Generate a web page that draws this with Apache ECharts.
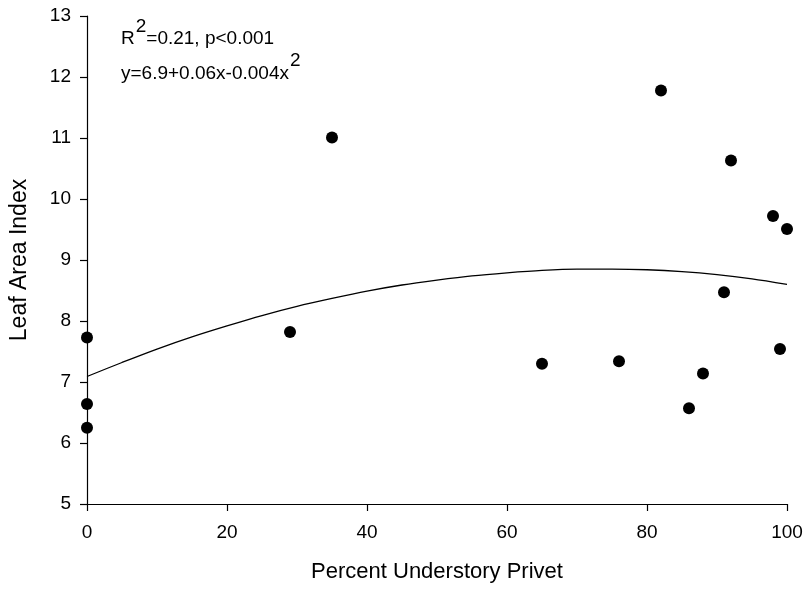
<!DOCTYPE html>
<html>
<head>
<meta charset="utf-8">
<script src="https://cdn.jsdelivr.net/npm/echarts@6/dist/echarts.min.js"></script>
<style>
  html, body { margin: 0; padding: 0; background: #fff; }
  #chart { width: 807px; height: 590px; }
</style>
</head>
<body>
<div id="chart"></div>
<script>
// observed points
var privetPct = [0, 0, 0, 29, 35, 65, 76, 82, 86, 88, 91, 92, 98, 99, 100];
var leafArea = [7.73, 6.64, 6.25, 7.82, 11.01, 7.30, 7.34, 11.78, 6.57, 7.14, 8.47, 10.63, 9.72, 7.54, 9.51];

// regression curve
var fitX = [0, 5, 10, 15, 20, 25, 30, 35, 40, 45, 50, 55, 60, 65, 70, 75, 80, 85, 90, 95, 100];
var fitY = [7.09, 7.32, 7.54, 7.74, 7.92, 8.09, 8.24, 8.37, 8.49, 8.59, 8.67, 8.74, 8.79, 8.83, 8.85, 8.85, 8.84, 8.81, 8.76, 8.69, 8.60];

var xTicks = [0, 20, 40, 60, 80, 100];
var yTicks = [5, 6, 7, 8, 9, 10, 11, 12, 13];

var FONT = '"Liberation Sans", Arial, sans-serif';

var chart = echarts.init(document.getElementById('chart'));

var points = privetPct.map(function (x, i) { return [x, leafArea[i]]; });
var curve = fitX.map(function (x, i) { return [x, fitY[i]]; });

// measure text widths for the annotation pieces
var ctx = document.createElement('canvas').getContext('2d');
function textW(s, size) {
  ctx.font = size + 'px ' + FONT;
  return ctx.measureText(s).width;
}

var annSize = 19;
var left = 121;
var rW = textW('R', annSize);
var supW = textW('2', annSize);
var eqText = 'y=6.9+0.06x-0.004x';
var eqW = textW(eqText, annSize);

function txt(str, x, y) {
  return {
    type: 'text',
    x: x,
    y: y,
    style: {
      text: str,
      fill: '#000',
      font: annSize + 'px ' + FONT,
      verticalAlign: 'middle',
      align: 'left'
    }
  };
}

var axisCommon = {
  axisLine: { show: true, onZero: false, lineStyle: { color: '#000', width: 1.2 } },
  axisTick: { show: true, inside: false, length: 7, lineStyle: { color: '#000', width: 1.2 } },
  splitLine: { show: false },
  axisLabel: { color: '#000', fontSize: 19, fontFamily: FONT },
  nameLocation: 'middle'
};

var options = {
  backgroundColor: '#fff',
  animation: false,
  grid: { left: 87, right: 20, top: 16, bottom: 86, containLabel: false, outerBoundsMode: 'none' },
  xAxis: Object.assign({}, axisCommon, {
    type: 'value',
    min: xTicks[0],
    max: xTicks[xTicks.length - 1],
    interval: xTicks[1] - xTicks[0],
    name: 'Percent Understory Privet',
    nameGap: 57,
    nameTextStyle: { color: '#000', fontSize: 22, fontFamily: FONT },
    axisLabel: Object.assign({}, axisCommon.axisLabel, { margin: 19 })
  }),
  yAxis: Object.assign({}, axisCommon, {
    type: 'value',
    min: yTicks[0],
    max: yTicks[yTicks.length - 1],
    interval: yTicks[1] - yTicks[0],
    name: 'Leaf Area Index',
    nameGap: 56,
    nameTextStyle: { color: '#000', fontSize: 23, fontFamily: FONT },
    axisLabel: Object.assign({}, axisCommon.axisLabel, { margin: 16 })
  }),
  series: [
    {
      type: 'line',
      data: curve,
      smooth: 0.3,
      showSymbol: false,
      lineStyle: { color: '#000', width: 1.3 },
      z: 2
    },
    {
      type: 'scatter',
      data: points,
      symbol: 'circle',
      symbolSize: 12,
      itemStyle: { color: '#000', opacity: 1 },
      z: 3
    }
  ],
  graphic: [
    txt('R', left, 39),
    txt('2', left + rW + 1, 27),
    txt('=0.21, p<0.001', left + rW + supW + 1, 39),
    txt(eqText, left, 74),
    txt('2', left + eqW + 1, 61)
  ]
};

chart.setOption(options);
</script>
</body>
</html>
